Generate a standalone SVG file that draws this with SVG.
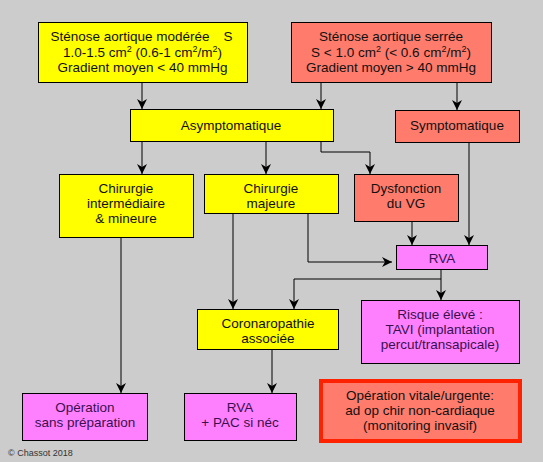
<svg xmlns="http://www.w3.org/2000/svg" width="543" height="462" viewBox="0 0 543 462">
<style>
text{font-family:"Liberation Sans",Arial,sans-serif;font-size:13.5px;fill:#111;text-anchor:middle}
.y{fill:#ffff00;stroke:#000;stroke-width:1}
.r{fill:#ff7b6b;stroke:#000;stroke-width:1}
.m{fill:#ff80ff;stroke:#000;stroke-width:1}
.mt{fill:#3a1050}
.sup{font-size:9px}
#connectors path{fill:none;stroke:#000;stroke-width:1}
</style>
<defs>
<marker id="a" viewBox="0 0 10 10" refX="10" refY="5" markerWidth="10" markerHeight="10" markerUnits="userSpaceOnUse" orient="auto">
<path d="M0,0 L10,5 L0,10 L3,5 Z" fill="#000"/>
</marker>
</defs>
<rect width="543" height="462" fill="#cccccc"/>
<g id="connectors">
<path d="M142,82 V109" marker-end="url(#a)"/>
<path d="M321,82 V109" marker-end="url(#a)"/>
<path d="M457,82 V110" marker-end="url(#a)"/>
<path d="M142,142 V174" marker-end="url(#a)"/>
<path d="M266,142 V174" marker-end="url(#a)"/>
<path d="M321,142 V152 H370 V174" marker-end="url(#a)"/>
<path d="M469,142 V245" marker-end="url(#a)"/>
<path d="M412,221 V245" marker-end="url(#a)"/>
<path d="M308,213 V262 H392" marker-end="url(#a)"/>
<path d="M233,213 V309" marker-end="url(#a)"/>
<path d="M441,269 V300" marker-end="url(#a)"/>
<path d="M441,279 H294 V309" marker-end="url(#a)"/>
<path d="M121,237 V393" marker-end="url(#a)"/>
<path d="M272,349 V393" marker-end="url(#a)"/>
</g>
<g id="n1">
<rect class="y" x="38.5" y="22.5" width="209" height="60"/>
<text x="130" y="41">Sténose aortique modérée</text>
<text x="228" y="41">S</text>
<text x="142.5" y="56.5">1.0-1.5 cm<tspan class="sup" dy="-5">2</tspan><tspan dy="5"> (0.6-1 cm</tspan><tspan class="sup" dy="-5">2</tspan><tspan dy="5">/m</tspan><tspan class="sup" dy="-5">2</tspan><tspan dy="5">)</tspan></text>
<text x="142.5" y="71.5">Gradient moyen &lt; 40 mmHg</text>
</g>
<g id="n2">
<rect class="r" x="291.5" y="22.5" width="200" height="60"/>
<text x="391" y="41">Sténose aortique serrée</text>
<text x="391" y="56.5">S &lt; 1.0 cm<tspan class="sup" dy="-5">2</tspan><tspan dy="5"> (&lt; 0.6 cm</tspan><tspan class="sup" dy="-5">2</tspan><tspan dy="5">/m</tspan><tspan class="sup" dy="-5">2</tspan><tspan dy="5">)</tspan></text>
<text x="391" y="71.5">Gradient moyen &gt; 40 mmHg</text>
</g>
<g id="n3">
<rect class="y" x="130.5" y="109.5" width="203" height="32"/>
<text x="231" y="130">Asymptomatique</text>
</g>
<g id="n4">
<rect class="r" x="395.5" y="110.5" width="124" height="32"/>
<text x="457" y="130">Symptomatique</text>
</g>
<g id="n5">
<rect class="y" x="59.5" y="174.5" width="134" height="63"/>
<text x="126" y="193">Chirurgie</text>
<text x="126" y="208">intermédiaire</text>
<text x="126" y="223">&amp; mineure</text>
</g>
<g id="n6">
<rect class="y" x="204.5" y="174.5" width="134" height="39"/>
<text x="271" y="193">Chirurgie</text>
<text x="271" y="208">majeure</text>
</g>
<g id="n7">
<rect class="r" x="354.5" y="174.5" width="104" height="47"/>
<text x="406" y="193">Dysfonction</text>
<text x="406" y="208">du VG</text>
</g>
<g id="n8">
<rect class="m" x="396.5" y="245.5" width="91" height="24"/>
<text class="mt" x="442" y="262.5">RVA</text>
</g>
<g id="n9">
<rect class="m" x="361.5" y="300.5" width="158" height="63"/>
<text class="mt" x="440" y="319">Risque élevé :</text>
<text class="mt" x="440" y="334">TAVI (implantation</text>
<text class="mt" x="440" y="349">percut/transapicale)</text>
</g>
<g id="n10">
<rect class="y" x="197.5" y="309.5" width="141" height="40"/>
<text x="268" y="328">Coronaropathie</text>
<text x="268" y="343">associée</text>
</g>
<g id="n11">
<rect class="m" x="22.5" y="393.5" width="125" height="47"/>
<text class="mt" x="85" y="412">Opération</text>
<text class="mt" x="85" y="427">sans préparation</text>
</g>
<g id="n12">
<rect class="m" x="184.5" y="393.5" width="112" height="47"/>
<text class="mt" x="240" y="412">RVA</text>
<text class="mt" x="240" y="427">+ PAC si néc</text>
</g>
<g id="n13">
<rect x="321" y="381" width="199" height="60" fill="#ff7b6b" stroke="#ff2200" stroke-width="4"/>
<text x="420" y="400">Opération vitale/urgente:</text>
<text x="420" y="415">ad op chir non-cardiaque</text>
<text x="420" y="430">(monitoring invasif)</text>
</g>
<text x="8" y="456" style="font-size:9px;text-anchor:start;fill:#333">© Chassot 2018</text>
</svg>
